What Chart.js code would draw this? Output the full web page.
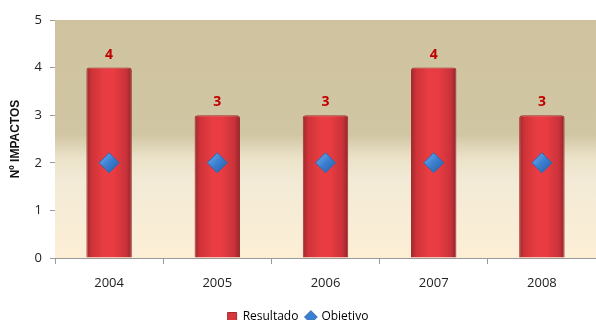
<!DOCTYPE html>
<html>
<head>
<meta charset="utf-8">
<script src="https://cdn.jsdelivr.net/npm/chart.js@4.4.1/dist/chart.umd.min.js"></script>
<style>
  html, body { margin: 0; padding: 0; background: #fff; }
  #wrap { width: 596px; height: 320px; }
</style>
</head>
<body>
<div id="wrap"><canvas id="impactos" width="596" height="320"></canvas></div>
<script>
// data
const years = ['2004', '2005', '2006', '2007', '2008'];
const resultado = [4, 3, 3, 4, 3];
const objetivo = [2, 2, 2, 2, 2];
const yTicks = [0, 1, 2, 3, 4, 5];

const BAR_PCT = 0.42;

// tan-to-cream panel behind the bars
const panelBg = {
    id: 'panelBg',
    beforeDatasetsDraw(chart) {
        const { ctx, chartArea: a } = chart;
        const g = ctx.createLinearGradient(0, a.top, 0, a.bottom);
        g.addColorStop(0, '#cfc39f');
        g.addColorStop(0.48, '#d1c6a3');
        g.addColorStop(0.58, '#ebe2c9');
        g.addColorStop(0.67, '#f2ead6');
        g.addColorStop(1, '#fdefd6');
        ctx.save();
        ctx.fillStyle = g;
        ctx.fillRect(a.left, a.top, a.right - a.left, a.bottom - a.top);
        ctx.restore();
    }
};

// red value labels above each bar
const barValues = {
    id: 'barValues',
    afterDatasetsDraw(chart) {
        const { ctx } = chart;
        const meta = chart.getDatasetMeta(0);
        ctx.save();
        ctx.fillStyle = '#c00000';
        ctx.font = 'bold 14px "Open Sans", sans-serif';
        ctx.textAlign = 'center';
        ctx.textBaseline = 'bottom';
        meta.data.forEach((bar, i) => {
            ctx.fillText(String(resultado[i]), bar.x, bar.y - 6);
        });
        ctx.restore();
    }
};

function barFill(context) {
    const chart = context.chart;
    if (!chart.chartArea || !chart.scales.x) return '#d9363b';
    const x = chart.scales.x.getPixelForValue(context.dataIndex);
    const w = (chart.chartArea.right - chart.chartArea.left) / years.length * BAR_PCT;
    const g = chart.ctx.createLinearGradient(x - w / 2, 0, x + w / 2, 0);
    g.addColorStop(0, '#9d2a2c');
    g.addColorStop(0.12, '#cf3338');
    g.addColorStop(0.4, '#e93d43');
    g.addColorStop(0.6, '#e83c42');
    g.addColorStop(0.88, '#c9323a');
    g.addColorStop(1, '#8f2628');
    return g;
}

function diamondFill(context) {
    const chart = context.chart;
    const el = context.element;
    if (!el || el.x == null) return '#3b7fd0';
    const g = chart.ctx.createLinearGradient(el.x - 8, el.y - 8, el.x + 8, el.y + 8);
    g.addColorStop(0, '#6aa6ea');
    g.addColorStop(0.5, '#3b7fd0');
    g.addColorStop(1, '#2a62ac');
    return g;
}

const ctx = document.getElementById('impactos').getContext('2d');
new Chart(ctx, {
    type: 'bar',
    data: {
        labels: years,
        datasets: [
            {
                label: 'Resultado',
                data: resultado,
                backgroundColor: barFill,
                borderColor: '#a22c30',
                borderWidth: 1,
                borderRadius: { topLeft: 3, topRight: 3 },
                borderSkipped: 'bottom',
                categoryPercentage: 1,
                barPercentage: BAR_PCT,
                order: 2
            },
            {
                label: 'Objetivo',
                type: 'line',
                data: objetivo,
                showLine: false,
                pointStyle: 'rectRot',
                pointRadius: 10,
                pointHoverRadius: 10,
                pointBackgroundColor: diamondFill,
                pointBorderColor: '#2e68b3',
                pointBorderWidth: 1,
                backgroundColor: '#3b7fd0',
                borderColor: '#2e68b3',
                order: 1
            }
        ]
    },
    options: {
        responsive: false,
        animation: false,
        layout: { autoPadding: false, padding: { top: 20, right: 0, left: 0, bottom: -13 } },
        plugins: {
            tooltip: { enabled: false },
            legend: {
                position: 'bottom',
                labels: {
                    usePointStyle: true,
                    boxWidth: 9,
                    boxHeight: 9,
                    padding: 8,
                    color: '#222',
                    font: { size: 12, family: '"Open Sans", sans-serif' },
                    generateLabels(chart) {
                        return [
                            { text: 'Resultado', fillStyle: '#d9363b', strokeStyle: '#a22c30', lineWidth: 1, pointStyle: 'rect', datasetIndex: 0 },
                            { text: 'Objetivo', fillStyle: '#3b7fd0', strokeStyle: '#2e68b3', lineWidth: 1, pointStyle: 'rectRot', datasetIndex: 1 }
                        ];
                    }
                }
            }
        },
        scales: {
            x: {
                afterFit(scale) {
                    scale.height = 45;
                    scale.paddingLeft = 0;
                    scale.paddingRight = 0;
                },
                grid: { offset: true, drawOnChartArea: false, color: '#9a9a9a', tickLength: 6 },
                border: { color: '#9a9a9a' },
                ticks: { color: '#222', padding: 11, font: { size: 13, family: '"Open Sans", sans-serif' } }
            },
            y: {
                min: 0,
                max: 5,
                afterBuildTicks(scale) { scale.ticks = yTicks.map(v => ({ value: v })); },
                afterFit(scale) { scale.width = 55; },
                grid: { drawOnChartArea: false, color: '#9a9a9a', tickLength: 5 },
                border: { color: '#9a9a9a' },
                ticks: { color: '#222', padding: 8, font: { size: 13, family: '"Open Sans", sans-serif' } },
                title: {
                    display: true,
                    text: 'Nº IMPACTOS',
                    color: '#111',
                    padding: { top: 8, bottom: 0 },
                    font: { size: 12, weight: 'bold', family: 'Arial, "Liberation Sans", sans-serif' }
                }
            }
        }
    },
    plugins: [panelBg, barValues]
});
</script>
</body>
</html>
